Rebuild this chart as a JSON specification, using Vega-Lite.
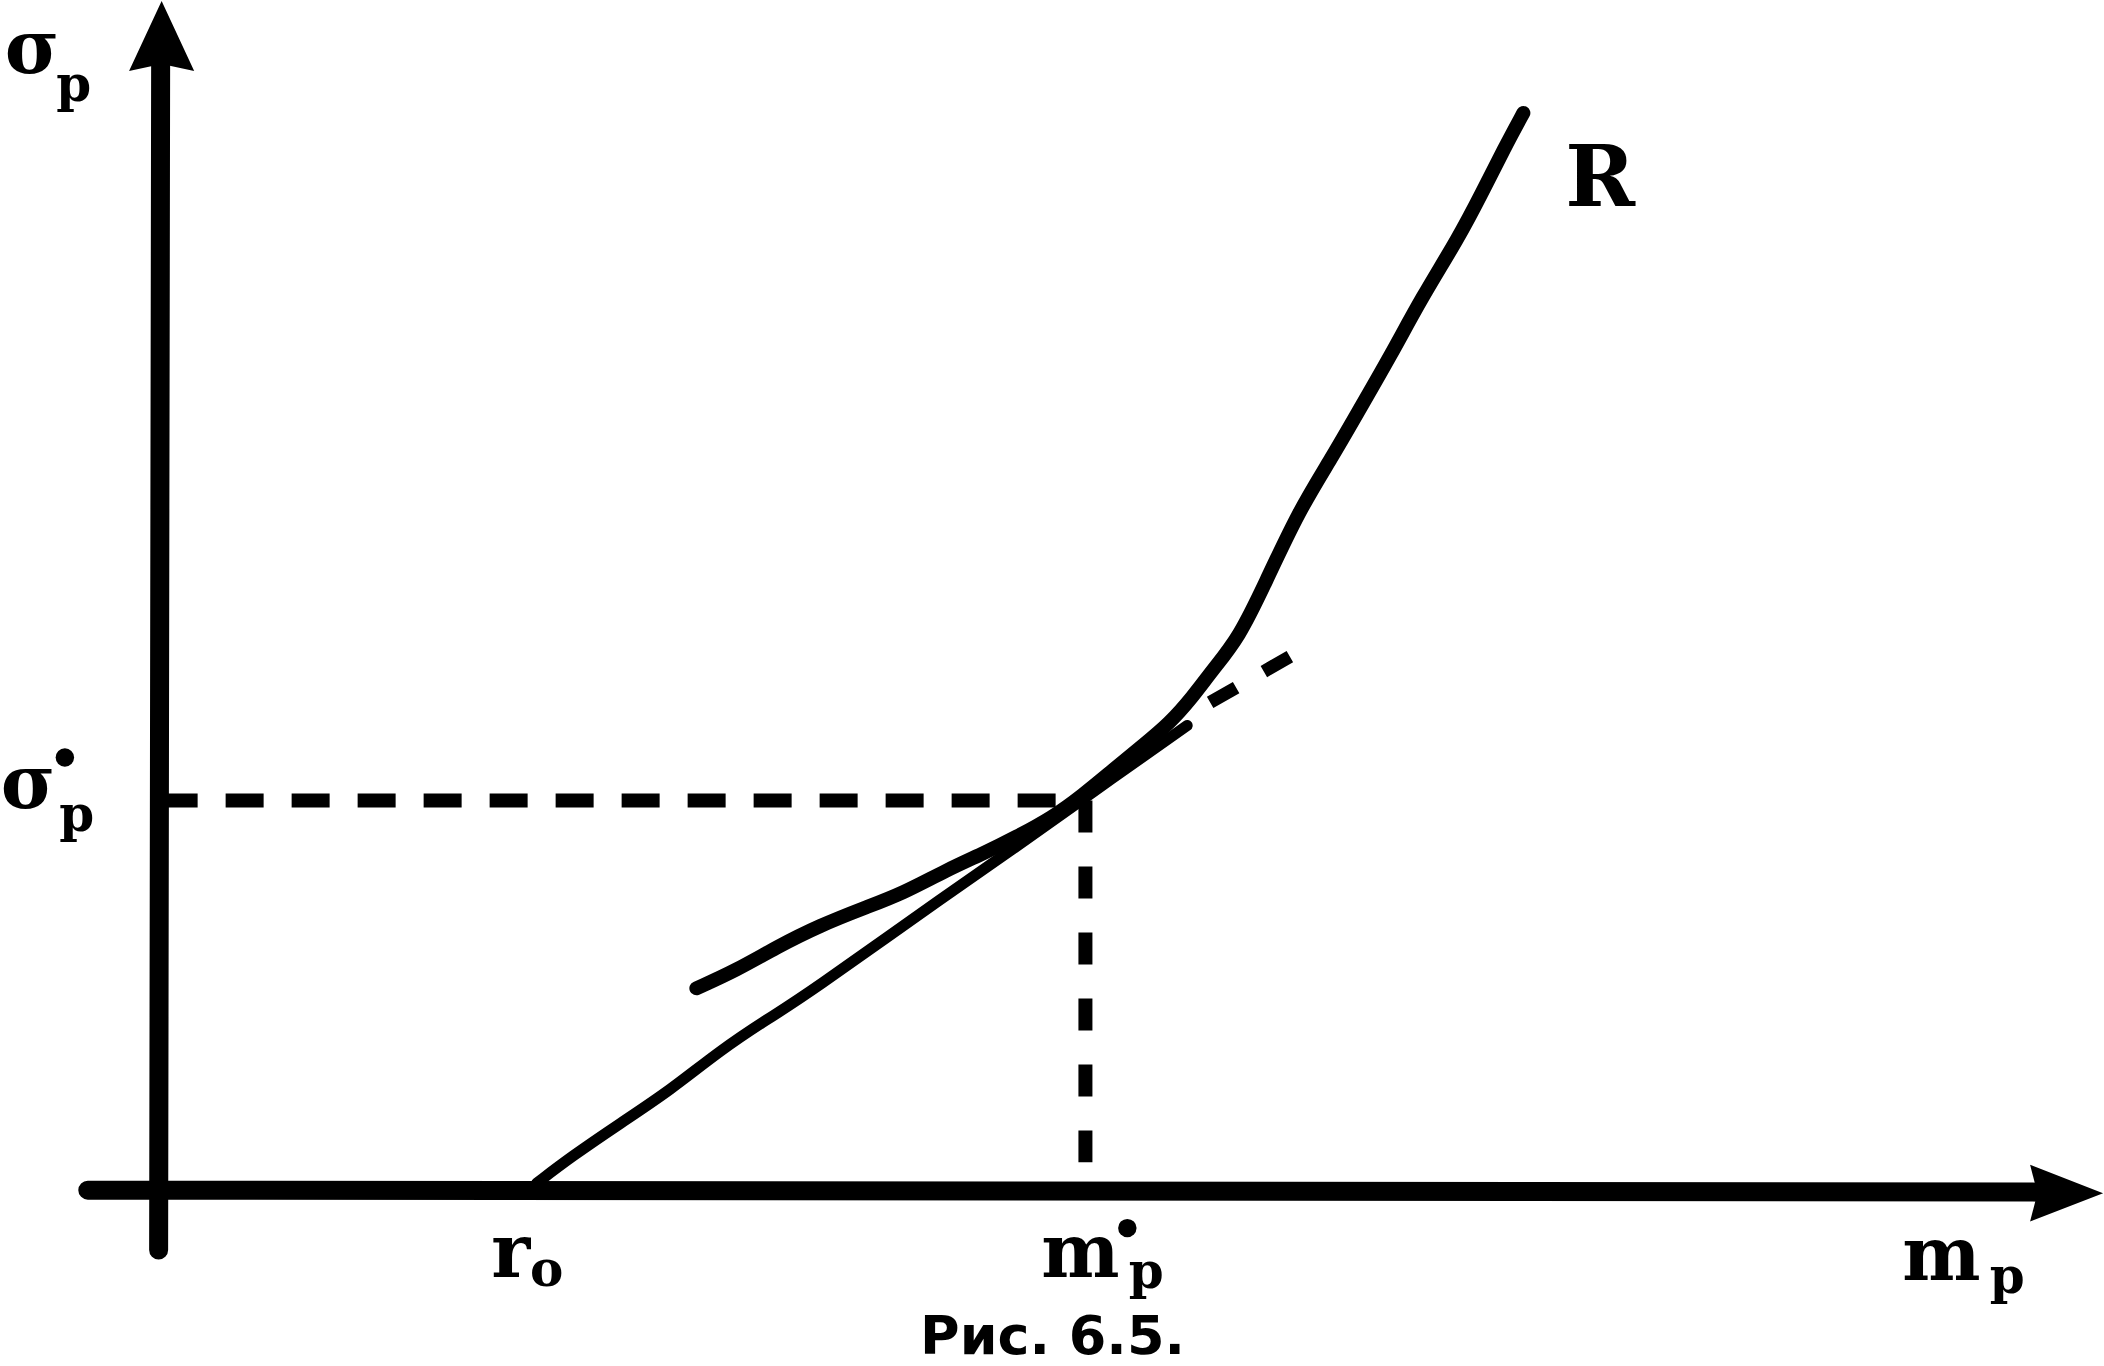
{
  "$schema": "https://vega.github.io/schema/vega-lite/v6.json",
  "width": 2104,
  "height": 1366,
  "autosize": {"type": "fit", "contains": "padding"},
  "padding": 0,
  "background": "white",
  "config": {"view": {"stroke": null}},
  "encoding": {
    "x": {"field": "x", "type": "quantitative", "scale": {"domain": [-1.54, 19.5], "nice": false, "zero": false}, "axis": null},
    "y": {"field": "y", "type": "quantitative", "scale": {"domain": [-1.76, 11.9], "nice": false, "zero": false}, "axis": null}
  },
  "layer": [
    {
      "data": {"values": [
        {"x": -0.71, "y": 0, "x2": 18.86, "y2": -0.02},
        {"x": 0, "y": -0.6, "x2": 0.02, "y2": 11.25}
      ]},
      "mark": {"type": "rule", "color": "#000", "strokeWidth": 19, "strokeCap": "round"},
      "encoding": {"x2": {"field": "x2"}, "y2": {"field": "y2"}}
    },
    {
      "data": {"values": [{"x": 0.01, "y": 3.9, "x2": 9.29, "y2": 3.9}]},
      "mark": {"type": "rule", "color": "#000", "strokeWidth": 14, "strokeDash": [38, 28]},
      "encoding": {"x2": {"field": "x2"}, "y2": {"field": "y2"}}
    },
    {
      "data": {"values": [{"x": 9.29, "y": 3.9, "x2": 9.29, "y2": 0.28}]},
      "mark": {"type": "rule", "color": "#000", "strokeWidth": 14, "strokeDash": [32, 34]},
      "encoding": {"x2": {"field": "x2"}, "y2": {"field": "y2"}}
    },
    {
      "data": {"values": [
        {"x": 5.39, "y": 2.02}, {"x": 5.79, "y": 2.2}, {"x": 6.19, "y": 2.43}, {"x": 6.63, "y": 2.65},
        {"x": 7.09, "y": 2.83}, {"x": 7.46, "y": 2.97}, {"x": 7.89, "y": 3.2}, {"x": 8.29, "y": 3.38},
        {"x": 8.59, "y": 3.53}, {"x": 8.96, "y": 3.73}, {"x": 9.26, "y": 3.95}, {"x": 9.56, "y": 4.2},
        {"x": 9.89, "y": 4.47}, {"x": 10.13, "y": 4.67}, {"x": 10.36, "y": 4.93}, {"x": 10.56, "y": 5.2},
        {"x": 10.83, "y": 5.53}, {"x": 11.09, "y": 6.07}, {"x": 11.43, "y": 6.8}, {"x": 11.76, "y": 7.33},
        {"x": 12.03, "y": 7.8}, {"x": 12.36, "y": 8.37}, {"x": 12.66, "y": 8.93}, {"x": 13.03, "y": 9.53},
        {"x": 13.26, "y": 9.97}, {"x": 13.49, "y": 10.43}, {"x": 13.68, "y": 10.78}
      ]},
      "mark": {"type": "line", "color": "#000", "strokeWidth": 14, "interpolate": "basis", "strokeCap": "round"}
    },
    {
      "data": {"values": [
        {"x": 3.79, "y": 0.07}, {"x": 4.13, "y": 0.33}, {"x": 4.63, "y": 0.67}, {"x": 5.13, "y": 1.0},
        {"x": 5.63, "y": 1.4}, {"x": 6.13, "y": 1.73}, {"x": 6.46, "y": 1.93}, {"x": 7.96, "y": 3.0},
        {"x": 8.59, "y": 3.43}, {"x": 9.29, "y": 3.93}, {"x": 10.31, "y": 4.65}
      ]},
      "mark": {"type": "line", "color": "#000", "strokeWidth": 11, "interpolate": "basis", "strokeCap": "round"}
    },
    {
      "data": {"values": [{"x": 10.54, "y": 4.88}, {"x": 11.41, "y": 5.38}]},
      "mark": {"type": "line", "color": "#000", "strokeWidth": 13, "strokeDash": [30, 32]}
    },
    {
      "data": {"values": [{"x": 19.125, "y": -0.03}]},
      "mark": {"type": "point", "filled": true, "color": "#000", "opacity": 1, "size": 5329, "shape": "M1,0L-1,-0.78L-0.8,0L-1,0.78Z"}
    },
    {
      "data": {"values": [{"x": 0.03, "y": 11.55}]},
      "mark": {"type": "point", "filled": true, "color": "#000", "opacity": 1, "size": 4900, "shape": "M0,-1L0.93,1L0,0.8L-0.93,1Z"}
    },
    {
      "data": {"values": [{"x": -0.94, "y": 4.33}, {"x": 9.71, "y": -0.38}]},
      "mark": {"type": "point", "filled": true, "color": "#000", "opacity": 1, "size": 340, "shape": "circle"}
    },
    {
      "data": {"values": [
        {"x": -1.27, "y": 11.18, "t": "σ"},
        {"x": -1.31, "y": 3.82, "t": "σ"},
        {"x": 3.53, "y": -0.87, "t": "r"},
        {"x": 9.24, "y": -0.87, "t": "m"},
        {"x": 17.87, "y": -0.9, "t": "m"}
      ]},
      "mark": {"type": "text", "font": "DejaVu Serif", "fontWeight": "bold", "fontSize": 74, "align": "center", "baseline": "alphabetic", "color": "#000"},
      "encoding": {"text": {"field": "t"}}
    },
    {
      "data": {"values": [{"x": 14.45, "y": 9.85, "t": "R"}]},
      "mark": {"type": "text", "font": "DejaVu Serif", "fontWeight": "bold", "fontSize": 84, "align": "center", "baseline": "alphabetic", "color": "#000"},
      "encoding": {"text": {"field": "t"}}
    },
    {
      "data": {"values": [
        {"x": -0.85, "y": 10.9, "t": "p"},
        {"x": -0.82, "y": 3.59, "t": "p"},
        {"x": 9.9, "y": -0.98, "t": "p"},
        {"x": 18.53, "y": -1.03, "t": "p"},
        {"x": 3.89, "y": -0.96, "t": "o"}
      ]},
      "mark": {"type": "text", "font": "DejaVu Serif", "fontWeight": "bold", "fontSize": 50, "align": "center", "baseline": "alphabetic", "color": "#000"},
      "encoding": {"text": {"field": "t"}}
    },
    {
      "data": {"values": [{"x": 8.96, "y": -1.64, "t": "Рис. 6.5."}]},
      "mark": {"type": "text", "font": "DejaVu Sans", "fontWeight": "bold", "fontSize": 54, "align": "center", "baseline": "alphabetic", "color": "#000"},
      "encoding": {"text": {"field": "t"}}
    }
  ]
}
